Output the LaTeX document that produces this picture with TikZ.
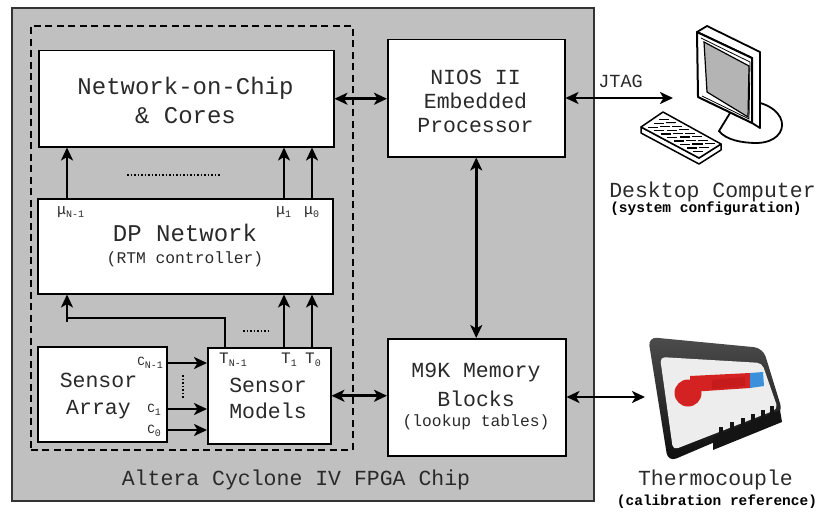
\documentclass[tikz,border=0pt]{standalone}
\usepackage{fontspec}
\setmainfont{Liberation Mono}
\usetikzlibrary{arrows.meta,calc}
\definecolor{chipgray}{HTML}{C0C0C0}
\definecolor{ink}{HTML}{2A2A2A}
\definecolor{screengray}{HTML}{B4B4B4}
\definecolor{thermred}{HTML}{D42222}
\definecolor{thermdark}{HTML}{B81515}
\definecolor{thermblue}{HTML}{3A90DA}
\definecolor{panel}{HTML}{EDEDED}
\begin{document}
\begin{tikzpicture}[x=1pt,y=-1pt,
  block/.style={draw=black, fill=white, line width=1.5pt, inner sep=0pt},
  arr/.style={line width=2.9pt, -{Stealth[length=13pt,width=12pt,inset=3.5pt]}},
  biarr/.style={line width=2.9pt, {Stealth[length=13pt,width=12pt,inset=3.5pt]}-{Stealth[length=13pt,width=12pt,inset=3.5pt]}},
  wire/.style={line width=2.9pt},
  dots/.style={line width=1.6pt, dash pattern=on 1.5pt off 2pt},
  big/.style={text=ink, inner sep=0pt, align=center, font=\fontsize{24}{29}\selectfont},
  mid/.style={text=ink, inner sep=0pt, align=center, font=\fontsize{21.5}{26}\selectfont},
  small/.style={text=ink, inner sep=0pt, font=\fontsize{16.3}{20}\selectfont},
  note/.style={text=black, inner sep=0pt, font=\fontsize{14.5}{17}\selectfont\bfseries},
  pin/.style={text=ink, inner sep=0pt},
]
\useasboundingbox (0,0) rectangle (818,511);

% ---------- FPGA chip and the dashed sub-system ----------
\node[draw=black!80, fill=chipgray, line width=1.6pt, minimum width=582pt, minimum height=493pt, anchor=north west] (chip) at (11,7) {};
\node[draw=black, line width=1.7pt, dash pattern=on 7pt off 4.5pt, minimum width=322pt, minimum height=424pt, anchor=north west] (sub) at (30,25) {};

% ---------- blocks ----------
\node[block, minimum width=295pt, minimum height=96pt, anchor=north west] (noc) at (38,50) {};
\node[block, minimum width=295pt, minimum height=95pt, anchor=north west] (dp) at (37,198) {};
\node[block, minimum width=129pt, minimum height=95pt, anchor=north west] (sa) at (37,346) {};
\node[block, minimum width=123pt, minimum height=96pt, anchor=north west] (sm) at (207,347) {};
\node[block, minimum width=177pt, minimum height=117pt, anchor=north west] (nios) at (387,39) {};
\node[block, minimum width=178pt, minimum height=117pt, anchor=north west] (m9k) at (387,338) {};

% ---------- block texts ----------
\node[big] (noct) at (185.5,100) {Network-on-Chip\\\& Cores};
\node[big] (dpt) at (185,233) {DP Network};
\node[small] (dps) at (185,259) {(RTM controller)};
\node[mid, font=\fontsize{21.5}{27}\selectfont] (sat) at (98.5,396) {Sensor\\Array};
\node[mid] (smt) at (268,398) {Sensor\\Models};
\node[mid, font=\fontsize{21.5}{24}\selectfont] (niost) at (475.5,101) {NIOS II\\Embedded\\Processor};
\node[mid] (m9kt) at (476,373) {M9K Memory};
\node[mid] (m9kb) at (476,399) {Blocks};
\node[small] (m9ks) at (476,422) {(lookup tables)};
\node[mid] (chipt) at (296,480) {Altera Cyclone IV FPGA Chip};

% ---------- port labels ----------
\newcommand\portlbl[3]{{\fontsize{#3}{#3}\selectfont #1}{\fontsize{10}{10}\selectfont\raisebox{-3pt}{#2}}}
\node[pin, anchor=west] (muN) at (57,212) {\portlbl{μ}{N-1}{15}};
\node[pin, anchor=west] (mu1) at (276,212) {\portlbl{μ}{1}{15}};
\node[pin, anchor=west] (mu0) at (304,212) {\portlbl{μ}{0}{15}};
\node[pin, anchor=west] (tN) at (219,360) {\portlbl{T}{N-1}{16}};
\node[pin, anchor=west] (t1) at (281,360) {\portlbl{T}{1}{16}};
\node[pin, anchor=west] (t0) at (305,360) {\portlbl{T}{0}{16}};
\node[pin, anchor=east] (cN) at (163,363) {\portlbl{C}{N-1}{12.5}};
\node[pin, anchor=east] (c1) at (161,410) {\portlbl{C}{1}{12.5}};
\node[pin, anchor=east] (c0) at (161,431) {\portlbl{C}{0}{12.5}};

% ---------- column positions of the vertical links ----------
\coordinate (colN) at (67,0);
\coordinate (col1) at (284,0);
\coordinate (col0) at (312,0);
\coordinate (colT) at (225,0);
\coordinate (bend) at (0,318);

% DP network outputs into the NoC
\draw[arr] (colN |- dp.north) -- (colN |- noc.south);
\draw[arr] (col1 |- dp.north) -- (col1 |- noc.south);
\draw[arr] (col0 |- dp.north) -- (col0 |- noc.south);
\draw[dots] (127,175) -- (220,175);

% sensor models feed the DP network
\draw[wire, line join=miter] (colT |- sm.north) -- (colT |- bend) -- (colN |- bend) -- ([yshift=-4pt]colN |- bend);
\draw[arr] (colN |- bend) -- (colN |- dp.south);
\draw[arr] (col1 |- sm.north) -- (col1 |- dp.south);
\draw[arr] (col0 |- sm.north) -- (col0 |- dp.south);
\draw[dots] (243,331) -- (269,331);

% sensor array into the sensor models
\draw[arr] (sa.east |- cN) -- (sm.west |- cN);
\draw[arr] (sa.east |- 0,409) -- (sm.west |- 0,409);
\draw[arr] (sa.east |- 0,430) -- (sm.west |- 0,430);
\draw[dots] (183,375) -- (183,398);

% bidirectional links
\draw[biarr] (noc.east) -- (noc.east -| nios.west);
\draw[biarr] (nios.south) -- (nios.south |- m9k.north);
\draw[biarr] (sm.east) -- (sm.east -| m9k.west);
\coordinate (pcport) at (673,98);
\coordinate (tcport) at (645,397);
\draw[biarr] (nios.east |- pcport) -- (pcport);
\draw[biarr] (m9k.east |- tcport) -- (tcport);
\node[text=ink, inner sep=0pt, font=\fontsize{18.5}{20}\selectfont] (jtag) at (620.5,81) {JTAG};

% ---------- desktop computer ----------
% stand
\draw[line width=1.8pt, fill=white] (738,100) .. controls (792,100) and (794,142) .. (757,143)
  .. controls (742,143) and (726,140) .. (719,131) -- cycle;
% monitor depth
\draw[line width=1.8pt, fill=white, line join=round] (697,32) -- (707,26) -- (760,52) -- (760,128) -- (752,123) -- (752,58) -- cycle;
% monitor front with bezel
\draw[line width=2pt, fill=white, line join=round] (697,32) -- (752,58) -- (752,123) -- (698,97) -- cycle;
\draw[line width=0.8pt] (701,38) -- (750,62) -- (749,119) -- (702,96);
\draw[line width=1.2pt, fill=screengray] (704,42) -- (749,66) -- (748,117) -- (707,92) -- cycle;
% keyboard
\draw[line width=1.5pt, fill=white, line join=round] (641,127) -- (641,133) -- (699,164) -- (721,150) -- (721,144) -- (699,158) -- cycle;
\draw[line width=1.5pt, fill=white, line join=round] (641,127) -- (663,112) -- (721,144) -- (699,158) -- cycle;
\begin{scope}[shift={(641,127)}, x={(58pt,-31pt)}, y={(22pt,15pt)}]
  \foreach \i in {0,...,7}
    \foreach \j in {0,1,2}
      \draw[line width=0.7pt, fill=black!15] (0.07+\i*0.112,0.14+\j*0.26) rectangle +(0.085,0.19);
\end{scope}
\node[mid] (pct) at (712.5,192) {Desktop Computer};
\node[note] (pcs) at (706,209) {(system configuration)};

% ---------- thermocouple ----------
\shade[rounded corners=9pt, top color=black!70, bottom color=black!95] (648,337) -- (763,348) -- (783,413) -- (668,462) -- cycle;
\fill[rounded corners=5pt, panel] (660,357) -- (762,363) -- (778,409) -- (673,450) -- cycle;
% scale marks rising from the lower frame
\fill[black!92] (713,437) -- (780,410) -- (782,422) -- (713,450) -- cycle;
\foreach \x in {721,732,743,753,763,772}
  \fill[black!92] (\x-1.6,{437-(\x-713)*0.403+1}) rectangle (\x+1.6,{437-(\x-713)*0.403-7});
\fill[thermred] (690,376) -- (750,373) -- (750,388) -- (690,392) -- cycle;
\fill[thermdark, opacity=0.5] (712,380) -- (745,377) -- (745,386) -- (712,389) -- cycle;
\fill[thermred] (688,393) circle (13.5);
\fill[thermblue] (750,373) -- (763,372) -- (764,386) -- (750,388) -- cycle;
\node[mid] (tct) at (715.5,480) {Thermocouple};
\node[note] (tcs) at (717,502) {(calibration reference)};
\end{tikzpicture}
\end{document}
